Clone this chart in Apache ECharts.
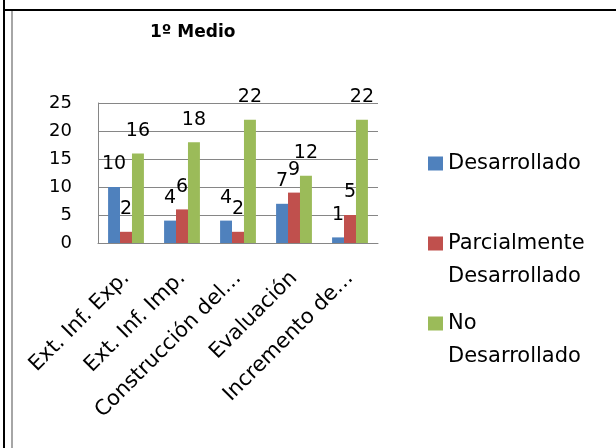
<!DOCTYPE html>
<html>
<head>
<meta charset="utf-8">
<script src="https://cdn.jsdelivr.net/npm/echarts@6/dist/echarts.min.js"></script>
<style>
  html, body { margin: 0; padding: 0; background: #fff; }
  #wrap { position: relative; width: 616px; height: 448px; overflow: hidden; }
  .edge { position: absolute; }
  #chart { position: absolute; left: 0; top: 0; width: 616px; height: 448px; }
</style>
</head>
<body>
<div id="wrap">
  <!-- table cell borders around the chart -->
  <div class="edge" style="left:3px;top:0;width:2px;height:448px;background:#000"></div>
  <div class="edge" style="left:3px;top:9px;width:613px;height:2px;background:#000"></div>
  <div class="edge" style="left:11px;top:11px;width:2px;height:437px;background:#a6a6a6"></div>
  <div id="chart"></div>
</div>
<script>
const categories = ['Ext. Inf. Exp.', 'Ext. Inf. Imp.', 'Construcción del…', 'Evaluación', 'Incremento de…'];
const desarrollado = [10, 4, 4, 7, 1];
const parcial = [2, 6, 2, 9, 5];
const noDesarrollado = [16, 18, 22, 12, 22];
const seriesNames = ['Desarrollado', 'Parcialmente\nDesarrollado', 'No\nDesarrollado'];
const colors = ['#4F81BD', '#C0504D', '#9BBB59'];

const font = 'DejaVu Sans';
const lineH = 33;
const chart = echarts.init(document.getElementById('chart'));

// one legend per item; for two-line names the icon is stretched with an
// invisible point so the square lines up with the first text line
function legendItem(i, top) {
  const lines = seriesNames[i].split('\n').length;
  const h = 14 + (lines - 1) * lineH;
  return {
    data: [seriesNames[i]],
    orient: 'vertical',
    left: 423,
    top: top,
    itemWidth: 15,
    itemHeight: h,
    icon: lines > 1 ? 'path://M0,0h15v14h-15z M0,' + h + 'h0.01v0.01h-0.01z' : 'rect',
    symbolKeepAspect: false,
    selectedMode: false,
    textStyle: {
      fontFamily: font,
      fontSize: 21,
      color: '#000',
      lineHeight: lineH
    }
  };
}

function barSeries(i, data) {
  return {
    name: seriesNames[i],
    type: 'bar',
    data: data,
    barGap: '0%',
    barCategoryGap: '36%',
    itemStyle: { color: colors[i] },
    label: {
      show: true,
      position: 'top',
      distance: 13,
      fontFamily: font,
      fontSize: 19,
      color: '#000'
    }
  };
}

chart.setOption({
  animation: false,
  title: {
    text: '1º Medio',
    left: 145,
    top: 19,
    textStyle: { fontFamily: font, fontSize: 17, fontWeight: 'bold', color: '#000' }
  },
  legend: [legendItem(0, 142), legendItem(1, 222), legendItem(2, 302)],
  grid: { left: 98, right: 238, top: 103, bottom: 205 },
  xAxis: {
    type: 'category',
    data: categories,
    axisLine: { lineStyle: { color: '#868686', width: 1 } },
    axisTick: { show: false },
    axisLabel: {
      interval: 0,
      rotate: 45,
      margin: 32,
      fontFamily: font,
      fontSize: 21,
      color: '#000'
    }
  },
  yAxis: {
    type: 'value',
    min: 0,
    max: 25,
    interval: 5,
    axisLine: { show: true, lineStyle: { color: '#868686', width: 1 } },
    axisTick: { show: false },
    splitLine: { lineStyle: { color: '#868686', width: 1 } },
    axisLabel: {
      margin: 26,
      fontFamily: font,
      fontSize: 18,
      color: '#000'
    }
  },
  series: [
    barSeries(0, desarrollado),
    barSeries(1, parcial),
    barSeries(2, noDesarrollado)
  ]
});
</script>
</body>
</html>
